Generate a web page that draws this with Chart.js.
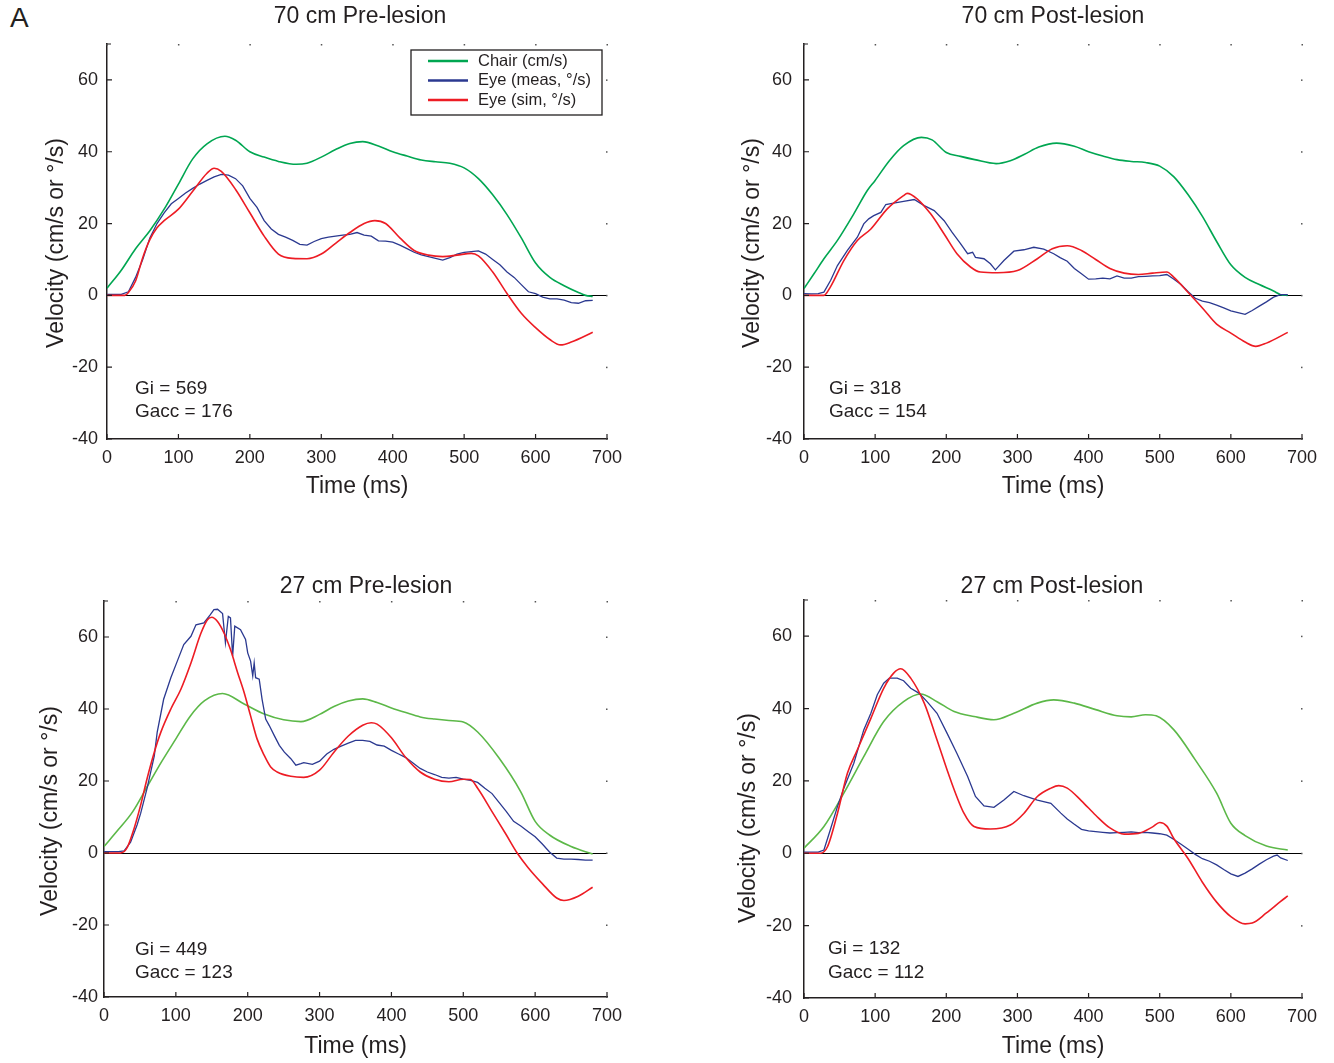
<!DOCTYPE html>
<html lang="en">
<head>
    <meta charset="UTF-8">
    <title>Velocity traces</title>
    <script src="https://cdn.jsdelivr.net/npm/chart.js"></script>
    <style>
        body { margin: 0; background: #fff; width: 1334px; height: 1063px; position: relative; overflow: hidden; font-family: Arial, "Liberation Sans", sans-serif; }
        .panel { position: absolute; }
        .tag { position: absolute; left: 10px; top: 4px; font-size: 28px; line-height: 28px; color: #231f20; }
    </style>
</head>
<body>
    <div class="tag">A</div>
    <div class="panel" id="p0"><canvas></canvas></div>
    <div class="panel" id="p1"><canvas></canvas></div>
    <div class="panel" id="p2"><canvas></canvas></div>
    <div class="panel" id="p3"><canvas></canvas></div>

    <script>
        // ---- data ----
        const seriesNames = ["Chair (cm/s)", "Eye (meas, \u00b0/s)", "Eye (sim, \u00b0/s)"];
        const panelTitles = ["70 cm Pre-lesion", "70 cm Post-lesion", "27 cm Pre-lesion", "27 cm Post-lesion"];
        const giLabels = [["Gi = 569", "Gacc = 176"], ["Gi = 318", "Gacc = 154"], ["Gi = 449", "Gacc = 123"], ["Gi = 132", "Gacc = 112"]];
        const xTicks = [0, 100, 200, 300, 400, 500, 600, 700];
        const yTicks = [-40, -20, 0, 20, 40, 60];

        // 70 cm pre-lesion
        const pre70ChairT = [0,20,40,60,80,100,120,140,165,180,200,220,240,265,280,300,320,340,358,380,400,420,440,460,480,500,520,540,560,580,600,620,640,660,670,680];
        const pre70Chair  = [2,7,13,18,24,31,38,42.2,44.3,43.2,40,38.5,37.3,36.5,36.8,38.5,40.6,42.3,42.8,41.6,40,38.8,37.7,37.2,36.8,35.5,32.5,28,22.5,16,9,5,2.7,0.8,0,-0.3];
        const pre70MeasT  = [0,10,20,30,40,50,60,70,80,90,100,110,120,130,140,150,160,170,180,190,200,210,220,230,240,250,260,270,280,290,300,310,320,330,340,350,360,370,380,390,400,410,420,430,440,450,460,470,480,490,500,510,520,530,540,550,560,570,580,590,600,610,620,630,640,650,660,670,680];
        const pre70Meas   = [0.3,0.3,0.3,1,5,10,16,20,23,25.5,27,28.5,29.8,31,32,33,33.7,33.5,32.5,30.5,27,24.5,20.8,18.5,17,16.2,15.3,14.2,14,15,15.8,16.2,16.5,16.8,17,17.5,16.8,16.5,15.2,15.1,14.8,14,13,12,11.3,10.8,10.3,9.8,10.5,11.5,12,12.2,12.4,11.5,10,8.5,6.5,5,3,1,0.5,-0.5,-1,-1,-1.3,-2,-2.2,-1.5,-1.4];
        const pre70SimT   = [0,25,30,40,50,60,70,80,100,120,140,150,160,180,200,220,240,260,280,300,320,340,360,375,390,410,430,450,470,490,510,520,540,560,580,600,620,635,650,680];
        const pre70Sim    = [0,0,0.8,4,10.5,15.5,18.8,20.8,24,29,34,35.4,34.5,29.5,23,16.5,11.5,10.3,10.2,11.5,14.5,17.5,20,20.8,20,16,12.5,11.2,10.8,11.2,11.7,11,6.5,0.5,-5,-9,-12.3,-13.8,-13,-10.3];

        // 70 cm post-lesion
        const post70ChairT = [0,14,28,47,70,89,100,120,140,165,180,200,220,240,270,290,310,330,355,380,400,420,440,460,480,500,520,540,560,580,600,620,640,660,670,680];
        const post70Chair  = [1.9,6,10.2,15.3,22.7,29.2,32,37.5,41.7,44,43.3,39.8,38.7,37.8,36.7,37.5,39.3,41.3,42.4,41.5,40,38.8,37.8,37.3,37,36,33,28,22,15,8.5,5,3,1.2,0.2,0];
        const post70MeasT  = [0,10,20,28,37.5,47,61,75,84,91,98,108,115,124,140,155,169,183,197,208,220,230,237,241,253,262,269,281,295,309,323,337,351,360,370,380,390,400,410,420,430,440,450,460,470,480,490,500,510,520,530,540,550,560,570,580,590,600,610,620,630,640,650,660,670,680];
        const post70Meas   = [0.5,0.4,0.5,0.9,4.2,8.3,12.5,16.2,19.9,21.3,22.2,23.1,25.3,25.6,26.2,26.7,25,23.6,20.8,17.6,14.4,11.6,12,10.6,10.2,8.8,7.1,9.7,12.3,12.7,13.4,12.9,11.6,10.5,9.5,7.5,6,4.5,4.6,4.8,4.6,5.4,4.8,4.8,5.2,5.3,5.4,5.5,5.8,4.5,3,1,-0.8,-1.6,-2,-2.7,-3.5,-4.3,-4.8,-5.3,-4.2,-3,-1.8,-0.5,0.2,0.2];
        const post70SimT   = [0,28,37,56,75,94,117,140,145,159,178,197,215,234,248,272,300,328,349,370,390,410,430,450,470,490,510,520,540,560,580,600,620,635,650,680];
        const post70Sim    = [0,0,2.3,9.7,15.3,18.5,24.1,27.8,28.4,26.9,22.7,17.1,11.6,7.9,6.5,6.3,6.9,10.2,13,13.8,12.5,10,7.5,6.2,5.8,6.2,6.5,5,0.8,-3.5,-8,-10.5,-13,-14.2,-13.3,-10.3];

        // 27 cm pre-lesion
        const pre27ChairT = [0,20,40,60,80,100,120,140,165,195,223,250,274,300,320,340,360,380,400,420,440,460,480,500,520,550,580,600,620,650,680];
        const pre27Chair  = [1.8,6.5,11.5,18.4,25.3,31.7,38,42.3,44.3,41.4,38.6,37,36.5,38.5,40.7,42.2,42.8,41.8,40.3,39,37.8,37.2,36.8,36.4,33.6,26.3,17,8.8,5,1.8,-0.3];
        const pre27MeasT  = [0,10,20,28,37,46,51,60,70,74,83,93,102,111,121,128,139,148,153,158,165,169,173,176,179,182,190,197,200,204,207,209,211,216,220,225,230,237,244,251,260,267,274,278,290,300,310,320,330,340,350,360,370,380,390,400,410,420,430,440,450,460,470,480,490,500,510,520,530,540,550,560,570,580,590,600,610,620,630,640,650,660,670,680];
        const pre27Meas   = [0.4,0.4,0.4,0.6,3,7.8,11,18,27,33.5,42.7,48.7,53.3,57.9,60.2,63.4,63.9,66.2,67.6,67.7,66.5,58.4,65.7,65.3,54.7,63,62,59.3,55.6,53.3,49.2,52.8,48.7,48.3,42.7,37.2,35.4,32.6,29.9,28,26.2,24.4,24.8,25.1,24.6,25.5,27.5,28.8,29.7,30.5,31.3,31.3,31,30,29.7,28.5,27.5,26.5,25,23.5,22.5,21.8,21,20.8,21,20.5,20.2,19.6,18,16.5,14,11.5,8.8,7.5,6,4.5,2.5,0.3,-1.4,-1.7,-1.7,-1.8,-2,-2];
        const pre27SimT   = [0,23,32,42,51,60,70,79,93,107,121,135,144,150,158,167,176,186,195,204,213,223,232,241,260,278,300,320,340,360,372,380,400,420,440,460,480,500,510,520,540,560,575,590,610,630,640,660,680];
        const pre27Sim    = [0,0,1.4,6.9,13.3,20.7,28,33.5,40,45.5,52.8,61.1,64.8,65.5,64.3,61.1,56.5,50.1,44.6,38.1,31.7,27.1,23.9,22.5,21.3,21,23,28,32.5,35.5,36.2,35.8,32,26.5,22.5,20.5,19.8,20.5,20.4,18,11.5,5,0,-4,-8.5,-12.5,-13.2,-12,-9.5];

        // 27 cm post-lesion
        const post27ChairT = [0,28,56,84,112,140,164,187,211,239,267,295,328,351,380,410,440,460,480,495,520,550,580,600,620,650,680];
        const post27Chair  = [1.4,7.4,16.6,26.7,36.4,41.9,44,41.9,39.2,37.8,36.9,38.7,41.5,42.4,41.5,39.7,38,37.7,38.3,38,34.1,25.8,16.6,8.3,4.9,2,0.9];
        const post27MeasT  = [0,10,20,28,37,47,56,70,84,94,103,112,120,131,140,150,162,173,187,201,215,230,241,253,267,281,295,309,328,347,361,370,380,390,400,410,420,430,440,450,460,470,480,490,500,510,520,530,540,550,560,570,580,590,600,610,620,630,640,650,660,665,670,680];
        const post27Meas   = [0.3,0.3,0.3,0.9,6.5,12.9,18,24.9,34.1,38.7,43.8,47,48.4,48.4,47.7,45.6,44.2,41.9,38.7,33.2,27.6,21.2,15.7,13.1,12.7,14.7,17.1,15.9,14.7,13.8,11.1,9.5,8,6.6,6.2,6,5.8,5.6,5.7,5.8,5.9,5.7,5.8,5.6,5.4,5,3.8,2.5,1.1,-0.3,-1.5,-2.2,-3.2,-4.5,-5.7,-6.4,-5.5,-4.3,-3,-1.8,-0.8,-0.5,-1.3,-2];
        const post27SimT   = [0,23,33,47,61,75,94,112,126,136,150,169,187,206,225,239,262,290,309,328,347,358,370,390,410,430,450,470,490,500,510,520,540,560,580,600,620,630,650,670,680];
        const post27Sim    = [0,0,1.8,11,22.1,28.6,37.3,45.6,49.8,51,48.4,41.5,31.3,20.3,11,7.4,6.7,7.8,11,15.7,18,18.7,18,14.5,10.5,7,5.3,5.5,7.3,8.5,7.5,4,-1.5,-8,-13.5,-17.5,-19.5,-19.3,-16.5,-13.3,-11.8];

        // ---- layout (page pixels) ----
        const TEXT = "#231f20";
        const BLUE = "#2b3990";
        const RED = "#ed1c24";
        const FONT = "Arial, 'Liberation Sans', sans-serif";

        const panels = [
            { box: [0, 0, 667, 530],     plot: [107, 607, 44, 439],   yPad: 9,  xTitleY: 487,  title: [360, 17],   yTitle: [57, 243],   gi: [135, 389, 412], green: "#00a651", legend: true,
              chair: [pre70ChairT, pre70Chair], meas: [pre70MeasT, pre70Meas], sim: [pre70SimT, pre70Sim] },
            { box: [667, 0, 667, 530],   plot: [804, 1302, 44, 439],  yPad: 12, xTitleY: 487,  title: [1053, 17],  yTitle: [753, 243],  gi: [829, 389, 412], green: "#00a651", legend: false,
              chair: [post70ChairT, post70Chair], meas: [post70MeasT, post70Meas], sim: [post70SimT, post70Sim] },
            { box: [0, 530, 667, 533],   plot: [104, 607, 601, 997],  yPad: 6,  xTitleY: 1047, title: [366, 587],  yTitle: [51, 811],   gi: [135, 950, 973], green: "#5cb848", legend: false,
              chair: [pre27ChairT, pre27Chair], meas: [pre27MeasT, pre27Meas], sim: [pre27SimT, pre27Sim] },
            { box: [667, 530, 667, 533], plot: [804, 1302, 600, 998], yPad: 12, xTitleY: 1047, title: [1052, 587], yTitle: [749, 818],  gi: [828, 949, 973], green: "#5cb848", legend: false,
              chair: [post27ChairT, post27Chair], meas: [post27MeasT, post27Meas], sim: [post27SimT, post27Sim] }
        ];

        function pts(times, values) {
            return times.map((t, i) => ({ x: t, y: values[i] }));
        }

        // ticks inward, dotted frame, titles, gains and legend
        const decor = {
            id: "decor",
            afterDraw(chart, args, o) {
                const ctx = chart.ctx;
                const { left, right, top, bottom } = chart.chartArea;
                const xs = chart.scales.x, ys = chart.scales.y;
                const ox = o.box[0], oy = o.box[1];
                ctx.save();
                ctx.strokeStyle = TEXT;
                ctx.fillStyle = TEXT;
                ctx.lineWidth = 1.2;
                ctx.beginPath();
                xTicks.forEach(v => {
                    const px = xs.getPixelForValue(v);
                    ctx.moveTo(px, bottom); ctx.lineTo(px, bottom - 5);
                });
                yTicks.forEach(v => {
                    const py = ys.getPixelForValue(v);
                    ctx.moveTo(left, py); ctx.lineTo(left + 5, py);
                });
                ctx.moveTo(left, top); ctx.lineTo(left + 4, top);
                ctx.stroke();
                ctx.fillStyle = "#555";
                xTicks.forEach(v => ctx.fillRect(xs.getPixelForValue(v) - 0.5, top, 1.5, 1.5));
                yTicks.forEach(v => ctx.fillRect(right - 1, ys.getPixelForValue(v) - 0.5, 1.5, 1.5));
                ctx.fillStyle = TEXT;

                ctx.textAlign = "center";
                ctx.textBaseline = "middle";
                ctx.font = "23px " + FONT;
                ctx.fillText(o.title, o.titlePos[0] - ox, o.titlePos[1] - oy);

                ctx.save();
                ctx.translate(o.yTitle[0] - ox, o.yTitle[1] - oy);
                ctx.rotate(-Math.PI / 2);
                ctx.fillText("Velocity (cm/s or \u00b0/s)", 0, 0);
                ctx.restore();

                ctx.textAlign = "left";
                ctx.font = "19px " + FONT;
                ctx.fillText(o.gains[0], o.gi[0] - ox, o.gi[1] - oy);
                ctx.fillText(o.gains[1], o.gi[0] - ox, o.gi[2] - oy);

                if (o.legend) {
                    const bx = left + 304, by = top + 6, bw = 191, bh = 65;
                    ctx.fillStyle = "#fff";
                    ctx.fillRect(bx, by, bw, bh);
                    ctx.lineWidth = 1.3;
                    ctx.strokeStyle = TEXT;
                    ctx.strokeRect(bx, by, bw, bh);
                    ctx.font = "16.5px " + FONT;
                    chart.data.datasets.forEach((ds, i) => {
                        const ry = by + 11 + i * 19.5;
                        ctx.strokeStyle = ds.borderColor;
                        ctx.lineWidth = 2.4;
                        ctx.beginPath();
                        ctx.moveTo(bx + 17, ry); ctx.lineTo(bx + 57, ry);
                        ctx.stroke();
                        ctx.fillStyle = TEXT;
                        ctx.fillText(ds.label, bx + 67, ry);
                    });
                }
                ctx.restore();
            }
        };

        panels.forEach((p, k) => {
            const [cx, cy, w, h] = p.box;
            const [l, r, t, b] = p.plot;
            const holder = document.getElementById("p" + k);
            holder.style.left = cx + "px";
            holder.style.top = cy + "px";
            holder.style.width = w + "px";
            holder.style.height = h + "px";
            const xH = p.xTitleY - b + 13.8;

            new Chart(holder.querySelector("canvas"), {
                type: "line",
                data: {
                    datasets: [
                        { label: seriesNames[0], data: pts(...p.chair), borderColor: p.green, borderWidth: 1.6, pointRadius: 0, cubicInterpolationMode: "monotone", order: 2 },
                        { label: seriesNames[1], data: pts(...p.meas), borderColor: BLUE, borderWidth: 1.3, pointRadius: 0, tension: 0, order: 1 },
                        { label: seriesNames[2], data: pts(...p.sim), borderColor: RED, borderWidth: 1.6, pointRadius: 0, cubicInterpolationMode: "monotone", order: 0 }
                    ]
                },
                options: {
                    responsive: true,
                    maintainAspectRatio: false,
                    animation: false,
                    events: [],
                    layout: { padding: { left: 0, top: t - cy, right: cx + w - r, bottom: cy + h - b - xH } },
                    plugins: {
                        legend: { display: false },
                        tooltip: { enabled: false },
                        decor: { box: p.box, title: panelTitles[k], titlePos: p.title, yTitle: p.yTitle, gi: p.gi, gains: giLabels[k], legend: p.legend }
                    },
                    scales: {
                        x: {
                            type: "linear", min: 0, max: 700,
                            afterFit: s => { s.height = xH; },
                            ticks: { stepSize: 100, color: TEXT, padding: 8, font: { family: FONT, size: 18 } },
                            grid: { display: false, drawTicks: false },
                            border: { display: true, color: TEXT, width: 1.5 },
                            title: { display: true, text: "Time (ms)", color: TEXT, padding: 0, font: { family: FONT, size: 23 } }
                        },
                        y: {
                            type: "linear", min: -40, max: 70,
                            afterFit: s => { s.width = l - cx; },
                            ticks: { stepSize: 20, includeBounds: false, color: TEXT, padding: p.yPad, font: { family: FONT, size: 18 } },
                            grid: { drawTicks: false, lineWidth: 1, color: c => (c.tick && c.tick.value === 0) ? "#000" : "rgba(0,0,0,0)" },
                            border: { display: true, color: TEXT, width: 1.5 }
                        }
                    }
                },
                plugins: [decor]
            });
        });
    </script>
</body>
</html>
